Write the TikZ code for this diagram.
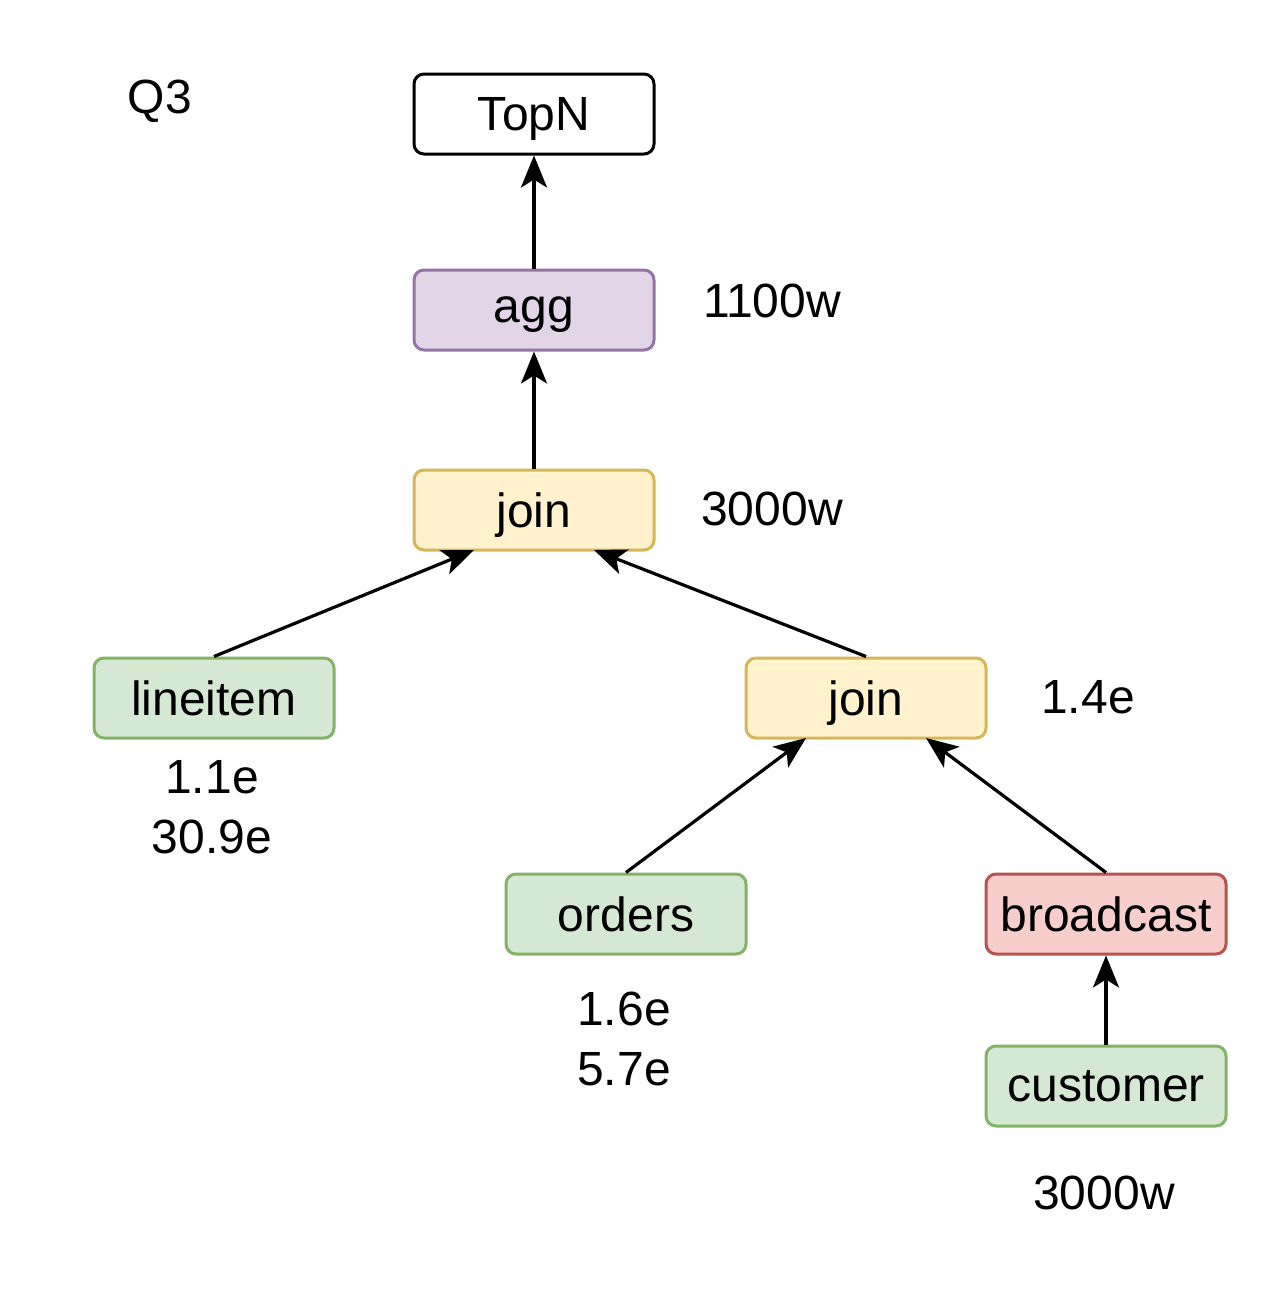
\documentclass[tikz,border=0pt]{standalone}
\usepackage{fontspec}
\setmainfont{Liberation Sans}
\usetikzlibrary{arrows.meta}
\definecolor{purpF}{HTML}{E1D5E7}\definecolor{purpD}{HTML}{9673A6}
\definecolor{yelF}{HTML}{FFF2CC}\definecolor{yelD}{HTML}{D6B656}
\definecolor{grnF}{HTML}{D5E8D4}\definecolor{grnD}{HTML}{82B366}
\definecolor{redF}{HTML}{F8CECC}\definecolor{redD}{HTML}{B85450}
\begin{document}
\begin{tikzpicture}[x=0.5pt,y=-0.5pt,
  every node/.style={font=\fontsize{24}{30}\selectfont},
  box/.style={draw, rounded corners=5pt, line width=1.5pt, minimum width=120pt, minimum height=40pt, inner sep=0pt, text depth=0pt, yshift=-1pt},
  lbl/.style={align=center, inner sep=0pt},
  edge/.style={line width=1.6pt, -{Stealth[length=16pt,width=13pt,inset=4pt]}}]
\useasboundingbox (0,0) rectangle (1268,1296);
\node[box] (topn) at (534,112) {TopN};
\node[box, fill=purpF, draw=purpD] (agg) at (534,308) {agg};
\node[box, fill=yelF, draw=yelD] (join1) at (534,508) {join};
\node[box, fill=grnF, draw=grnD] (lineitem) at (214,696) {lineitem};
\node[box, fill=yelF, draw=yelD] (join2) at (866,696) {join};
\node[box, fill=grnF, draw=grnD] (orders) at (626,912) {orders};
\node[box, fill=redF, draw=redD] (bcast) at (1106,912) {broadcast};
\node[box, fill=grnF, draw=grnD] (cust) at (1106,1084) {customer};
\node[lbl] (q3) at (160,101) {Q3};
\node[lbl] (l1) at (772,301) {1100w};
\node[lbl] (l2) at (772,509) {3000w};
\node[lbl] (l3) at (1088,697) {1.4e};
\node[lbl] (l4) at (212,807) {1.1e\\30.9e};
\node[lbl] (l5) at (624,1039) {1.6e\\5.7e};
\node[lbl] (l6) at (1104,1193) {3000w};
\coordinate (j1a) at (474,550);
\coordinate (j1b) at (594,550);
\coordinate (j2a) at (806,738);
\coordinate (j2b) at (926,738);
\draw[edge] (agg.north) -- (topn.south);
\draw[edge] (join1.north) -- (agg.south);
\draw[edge] (lineitem.north) -- (j1a);
\draw[edge] (join2.north) -- (j1b);
\draw[edge] (orders.north) -- (j2a);
\draw[edge] (bcast.north) -- (j2b);
\draw[edge] (cust.north) -- (bcast.south);
\end{tikzpicture}
\end{document}
